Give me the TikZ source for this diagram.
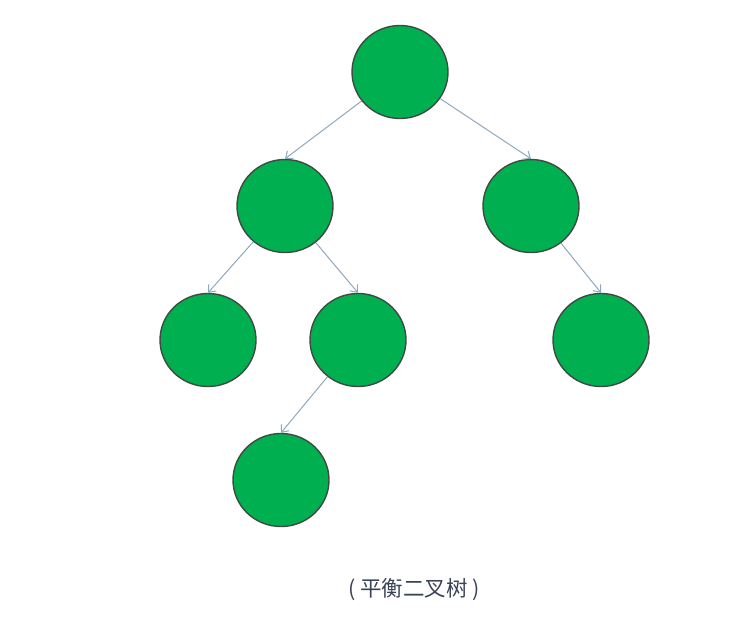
\documentclass[tikz,border=0pt]{standalone}
\usepackage{fontspec}
\newfontfamily\cjk{Noto Sans CJK SC}
\usetikzlibrary{arrows.meta,shapes.geometric}
\definecolor{nodegreen}{HTML}{00B050}
\definecolor{nodeborder}{HTML}{3F4A42}
\definecolor{edgeblue}{HTML}{8FA8BE}
\definecolor{captiongray}{HTML}{3A4356}
\begin{document}
\begin{tikzpicture}[x=1pt,y=-1pt,
  treenode/.style={ellipse, minimum width=96pt, minimum height=93pt, inner sep=0pt, fill=nodegreen, draw=nodeborder, line width=1.4pt},
  edge/.style={draw=edgeblue, line width=1pt, -{Straight Barb[length=6pt,width=10pt,line width=1pt]}}]
\useasboundingbox (0,0) rectangle (751,630);
\node[treenode] (r) at (400,72) {};
\node[treenode] (a) at (285,206) {};
\node[treenode] (b) at (531,206) {};
\node[treenode] (c) at (208,340) {};
\node[treenode] (d) at (358,340) {};
\node[treenode] (e) at (601,340) {};
\node[treenode] (f) at (281,480) {};
\draw[edge] (r) -- (a.north);
\draw[edge] (r) -- (b.north);
\draw[edge] (a) -- (c.north);
\draw[edge] (a) -- (d.north);
\draw[edge] (b) -- (e.north);
\draw[edge] (d) -- (f.north);
\node[text=captiongray, font=\cjk\fontsize{21.5}{26}\selectfont] (cap) at (414,590) {(\ 平衡二叉树\ )};
\end{tikzpicture}
\end{document}
